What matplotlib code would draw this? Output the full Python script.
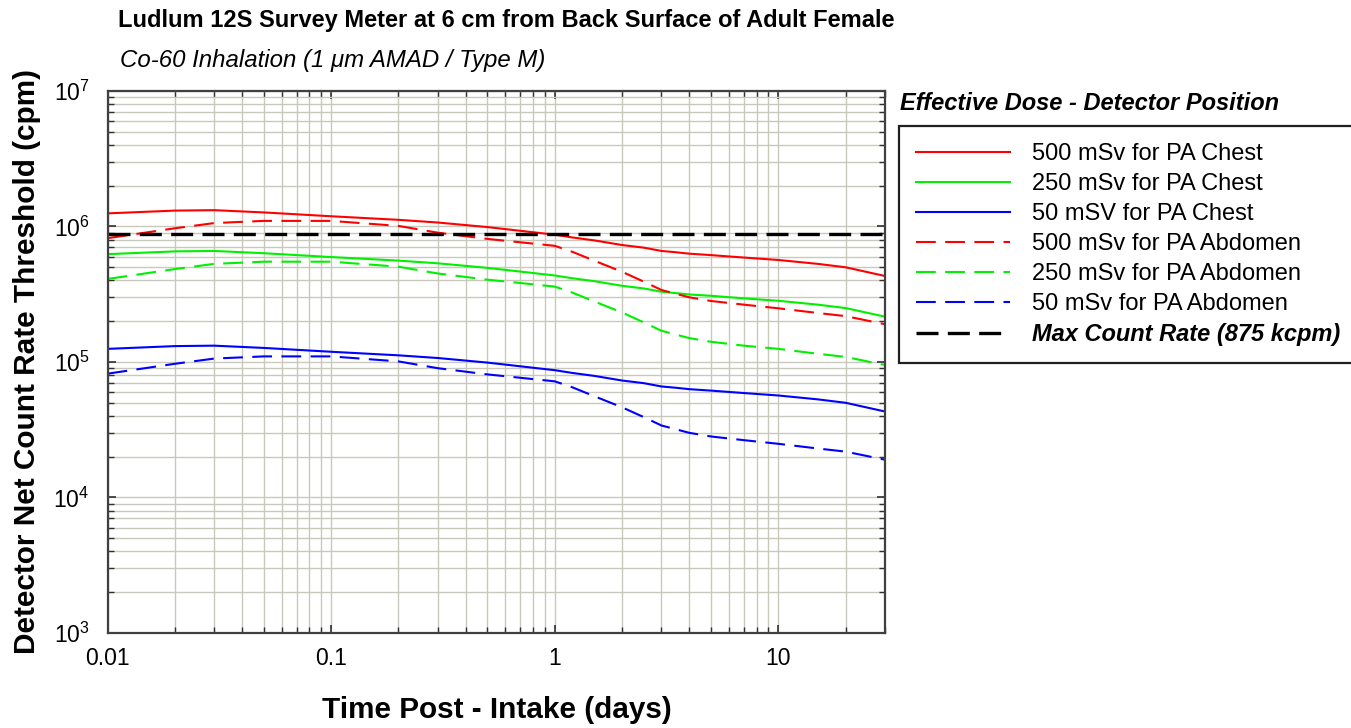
import numpy as np
import matplotlib.pyplot as plt
from matplotlib.ticker import FixedLocator, FuncFormatter, NullFormatter, LogLocator

plt.rcParams['font.family'] = ['Liberation Sans', 'DejaVu Sans']
plt.rcParams['mathtext.fontset'] = 'custom'
plt.rcParams['mathtext.rm'] = 'Liberation Sans'
plt.rcParams['mathtext.it'] = 'Liberation Sans:italic'

# time post intake (days)
days = [0.01, 0.02, 0.03, 0.05, 0.1, 0.2, 0.3, 0.5, 0.7, 1, 1.2, 1.5, 2, 2.5, 3, 3.5,
        4, 5, 7, 10, 15, 20, 30]

# count rate thresholds (cpm)
chest_500 = [1.25e6, 1.31e6, 1.32e6, 1.27e6, 1.19e6, 1.12e6, 1.07e6, 9.9e5, 9.3e5, 8.7e5,
             8.3e5, 7.9e5, 7.3e5, 6.98e5, 6.6e5, 6.45e5, 6.3e5, 6.15e5, 5.9e5, 5.66e5,
             5.3e5, 5.0e5, 4.31e5]
chest_250 = [6.25e5, 6.55e5, 6.6e5, 6.35e5, 5.95e5, 5.6e5, 5.35e5, 4.95e5, 4.65e5, 4.35e5,
             4.15e5, 3.95e5, 3.65e5, 3.49e5, 3.3e5, 3.22e5, 3.15e5, 3.08e5, 2.95e5, 2.83e5,
             2.65e5, 2.5e5, 2.16e5]
chest_50 = [1.25e5, 1.31e5, 1.32e5, 1.27e5, 1.19e5, 1.12e5, 1.07e5, 9.9e4, 9.3e4, 8.7e4,
            8.3e4, 7.9e4, 7.3e4, 6.98e4, 6.6e4, 6.45e4, 6.3e4, 6.15e4, 5.9e4, 5.66e4,
            5.3e4, 5.0e4, 4.31e4]
abd_500 = [8.2e5, 9.7e5, 1.06e6, 1.1e6, 1.1e6, 1.01e6, 9.0e5, 8.1e5, 7.65e5, 7.2e5,
           6.5e5, 5.6e5, 4.63e5, 3.92e5, 3.4e5, 3.18e5, 3.0e5, 2.82e5, 2.65e5, 2.49e5,
           2.3e5, 2.18e5, 1.9e5]
abd_250 = [4.1e5, 4.85e5, 5.3e5, 5.5e5, 5.5e5, 5.05e5, 4.5e5, 4.05e5, 3.83e5, 3.6e5,
           3.25e5, 2.8e5, 2.32e5, 1.96e5, 1.7e5, 1.59e5, 1.5e5, 1.41e5, 1.32e5, 1.25e5,
           1.15e5, 1.09e5, 9.5e4]
abd_50 = [8.2e4, 9.7e4, 1.06e5, 1.1e5, 1.1e5, 1.01e5, 9.0e4, 8.1e4, 7.65e4, 7.2e4,
          6.5e4, 5.6e4, 4.63e4, 3.92e4, 3.4e4, 3.18e4, 3.0e4, 2.82e4, 2.65e4, 2.49e4,
          2.3e4, 2.18e4, 1.9e4]
max_rate = 875e3

labels = ["500 mSv for PA Chest", "250 mSv for PA Chest", "50 mSV for PA Chest",
          "500 mSv for PA Abdomen", "250 mSv for PA Abdomen", "50 mSv for PA Abdomen",
          "Max Count Rate (875 kcpm)"]
x_ticks = [0.01, 0.1, 1, 10]

fig = plt.figure(figsize=(13.51, 7.28), dpi=100)
ax = fig.add_axes([0.0796, 0.1305, 0.5755, 0.7445])

red, green, blue = '#ff0000', '#00f000', '#0000ff'
dash = (9.5, 4.5)
ax.plot(days, chest_500, color=red, lw=1.5, label=labels[0])
ax.plot(days, chest_250, color=green, lw=1.5, label=labels[1])
ax.plot(days, chest_50, color=blue, lw=1.5, label=labels[2])
ax.plot(days, abd_500, color=red, lw=1.5, dashes=dash, label=labels[3])
ax.plot(days, abd_250, color=green, lw=1.5, dashes=dash, label=labels[4])
ax.plot(days, abd_50, color=blue, lw=1.5, dashes=dash, label=labels[5])
ax.axhline(max_rate, color='black', lw=2.4, dashes=(6.6, 2.8), label=labels[6])

ax.set_xscale('log')
ax.set_yscale('log')
ax.set_xlim(0.01, 30)
ax.set_ylim(1e3, 1e7)

# grid + ticks
ax.grid(True, which='both', color='#c8c8bc', lw=1.0)
ax.set_axisbelow(True)
ax.xaxis.set_major_locator(FixedLocator(x_ticks))
ax.xaxis.set_major_formatter(FuncFormatter(lambda v, p: '%g' % v))
ax.xaxis.set_minor_locator(LogLocator(base=10, subs=np.arange(2, 10)))
ax.xaxis.set_minor_formatter(NullFormatter())
ax.yaxis.set_major_formatter(FuncFormatter(lambda v, p: r'$\mathregular{10^{%d}}$' % round(np.log10(v))))
ax.yaxis.set_minor_locator(LogLocator(base=10, subs=np.arange(2, 10)))
ax.yaxis.set_minor_formatter(NullFormatter())
ax.tick_params(which='both', direction='in', top=True, right=True, color='#303030')
ax.tick_params(which='major', length=6, width=1.2, labelsize=16.5)
ax.tick_params(which='minor', length=4, width=1.0)
ax.tick_params(axis='x', pad=10)
ax.tick_params(axis='y', pad=13)
for s in ax.spines.values():
    s.set_color('#404040')
    s.set_linewidth(1.6)

# titles and axis labels
fig.text(118 / 1351, 1 - 20 / 728, "Ludlum 12S Survey Meter at 6 cm from Back Surface of Adult Female",
         fontsize=17, fontweight='bold', ha='left', va='center')
fig.text(120 / 1351, 1 - 60 / 728, "Co-60 Inhalation (1 \u03bcm AMAD / Type M)",
         fontsize=17.3, fontstyle='italic', ha='left', va='center')
fig.text(27 / 1351, 1 - 362 / 728, "Detector Net Count Rate Threshold (cpm)",
         fontsize=21.4, fontweight='bold', rotation=90, ha='center', va='center')
fig.text(497 / 1351, 1 - 710 / 728, "Time Post - Intake (days)",
         fontsize=21.4, fontweight='bold', ha='center', va='center')

# legend (right edge runs off the figure, as in the original)
fig.text(900 / 1351, 1 - 103 / 728, "Effective Dose - Detector Position",
         fontsize=17, fontweight='bold', fontstyle='italic', ha='left', va='center')
leg = ax.legend(loc='upper left', bbox_to_anchor=(899 / 1351, 1 - 126 / 728),
                bbox_transform=fig.transFigure, borderaxespad=0, fontsize=17,
                fancybox=False, framealpha=1, edgecolor='#202020',
                borderpad=0.72, handlelength=4.0, handletextpad=0.9, labelspacing=0.34)
leg.get_frame().set_linewidth(1.6)
last = leg.get_texts()[-1]
last.set_fontweight('bold')
last.set_fontstyle('italic')

plt.savefig('out.png', dpi=100, facecolor='white')
plt.close()
